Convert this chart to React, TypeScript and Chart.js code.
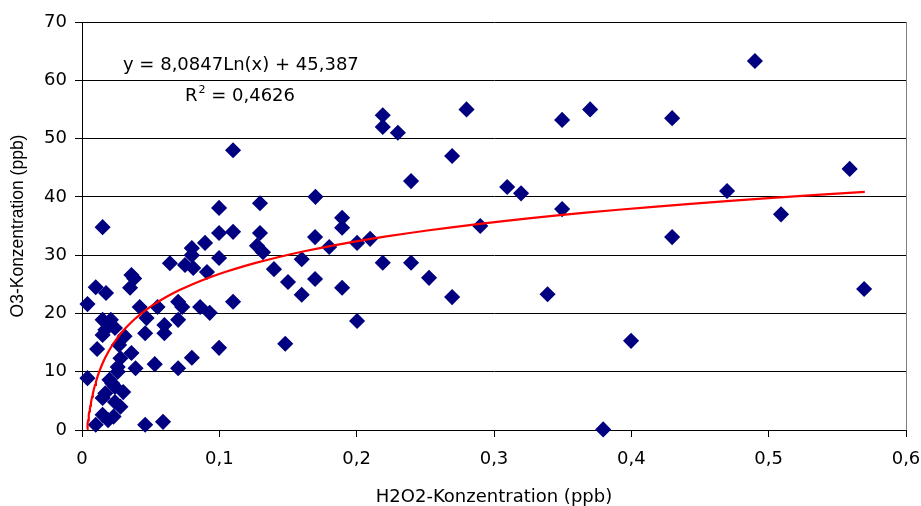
import React, { useEffect, useRef } from 'react';
import { Chart, registerables } from 'chart.js';

Chart.register(...registerables);

// H2O2 concentration (ppb) for each measurement
const h2o2: number[] = [
  0.004, 0.010, 0.0175, 0.015, 0.021, 0.017, 0.024, 0.015, 0.027, 0.011,
  0.015, 0.004, 0.020, 0.024, 0.017, 0.030, 0.024, 0.015, 0.028, 0.015,
  0.023, 0.010, 0.019, 0.026, 0.028, 0.026, 0.022,
  0.036, 0.035, 0.038, 0.042, 0.055, 0.047, 0.046, 0.036, 0.039, 0.053,
  0.046, 0.059, 0.031, 0.060, 0.060,
  0.064, 0.075, 0.080, 0.080, 0.081, 0.0896, 0.091, 0.0998, 0.110, 0.0998,
  0.070, 0.073, 0.086, 0.093, 0.110, 0.070, 0.070, 0.080, 0.0998, 0.0998, 0.110,
  0.1296, 0.170, 0.1894, 0.1894, 0.1296, 0.1274, 0.1318, 0.1697, 0.180, 0.2003,
  0.2098, 0.160, 0.1398, 0.150, 0.1697, 0.160, 0.1894, 0.2003, 0.148,
  0.219, 0.219, 0.230, 0.2695, 0.2396, 0.219, 0.2396, 0.2527, 0.2695, 0.280,
  0.290, 0.3096, 0.3197, 0.3496, 0.370, 0.3496, 0.339, 0.3795, 0.3998, 0.4297,
  0.4297, 0.4697, 0.490, 0.509, 0.559, 0.5695,
];

// O3 concentration (ppb) for each measurement
const o3: number[] = [
  21.6, 24.5, 23.5, 18.9, 18.9, 17.2, 17.5, 16.3, 14.6, 13.9,
  34.8, 8.9, 8.6, 7.4, 6.3, 6.5, 4.8, 5.5, 4.0, 2.6,
  2.3, 0.9, 1.7, 10.8, 12.3, 10.0, 8.0,
  26.6, 24.4, 26.0, 21.1, 21.1, 19.2, 16.6, 13.2, 10.6, 11.3,
  0.9, 1.4, 16.1, 18.0, 16.6,
  28.6, 28.3, 31.2, 30.0, 27.8, 32.1, 27.1, 33.8, 34.0, 29.5,
  22.0, 21.1, 21.1, 20.1, 22.0, 18.9, 10.6, 12.4, 14.1, 38.1, 48.0,
  38.9, 40.0, 36.4, 34.7, 33.8, 31.6, 30.5, 33.1, 31.4, 32.1,
  32.8, 29.3, 27.6, 25.4, 25.9, 23.2, 24.4, 18.7, 14.8,
  54.0, 52.0, 51.0, 47.0, 42.7, 28.7, 28.7, 26.1, 22.8, 55.0,
  35.0, 41.7, 40.6, 53.2, 55.0, 37.9, 23.3, 0.1, 15.3, 53.5,
  33.1, 41.0, 63.3, 37.0, 44.8, 24.2,
];

// Logarithmic trend line shown in the chart: y = a*ln(x) + b
const trendA = 8.0847;
const trendB = 45.387;
const trendR2 = 0.4626;
const trendXStart = 0.0037;
const trendXEnd = 0.57;

const xTickValues = [0, 0.1, 0.2, 0.3, 0.4, 0.5, 0.6];
const yTickValues = [0, 10, 20, 30, 40, 50, 60, 70];

const xTitle = 'H2O2-Konzentration (ppb)';
const yTitle = 'O3-Konzentration (ppb)';

const fmt = (v: number, d: number) => v.toFixed(d).replace('.', ',');

export default function App() {
  const ref = useRef<HTMLCanvasElement | null>(null);

  useEffect(() => {
    document.body.style.margin = '0';
    const canvas = ref.current;
    if (!canvas) return;

    const points = h2o2.map((x, i) => ({ x, y: o3[i] }));

    const trendPts: { x: number; y: number }[] = [];
    const n = 80;
    const l0 = Math.log(trendXStart);
    const l1 = Math.log(trendXEnd);
    for (let i = 0; i <= n; i++) {
      const x = Math.exp(l0 + ((l1 - l0) * i) / n);
      trendPts.push({ x, y: trendA * Math.log(x) + trendB });
    }

    const sans = '"DejaVu Sans", sans-serif';

    const overlay = {
      id: 'overlay',
      beforeDatasetsDraw(chart: any) {
        const { ctx, chartArea } = chart;
        ctx.save();
        ctx.strokeStyle = '#808080';
        ctx.lineWidth = 1;
        ctx.beginPath();
        ctx.moveTo(Math.round(chartArea.right) + 0.5, chartArea.top);
        ctx.lineTo(Math.round(chartArea.right) + 0.5, chartArea.bottom);
        ctx.stroke();
        ctx.restore();
      },
      afterDraw(chart: any) {
        const { ctx } = chart;
        ctx.save();
        ctx.fillStyle = '#000';
        ctx.textBaseline = 'alphabetic';
        ctx.textAlign = 'left';
        ctx.font = '18px ' + sans;
        ctx.fillText(`y = ${fmt(trendA, 4)}Ln(x) + ${fmt(trendB, 3)}`, 123, 70);
        let x = 185;
        ctx.fillText('R', x, 101);
        x += ctx.measureText('R').width + 1;
        ctx.font = '11px ' + sans;
        ctx.fillText('2', x, 93);
        x += ctx.measureText('2').width;
        ctx.font = '18px ' + sans;
        ctx.fillText(` = ${fmt(trendR2, 4)}`, x, 101);
        ctx.restore();
      },
    };

    const chart = new Chart(canvas, {
      type: 'scatter',
      data: {
        datasets: [
          {
            type: 'line',
            data: trendPts,
            borderColor: '#FF0000',
            borderWidth: 2.2,
            pointRadius: 0,
            fill: false,
            tension: 0,
          } as any,
          {
            data: points,
            pointStyle: 'rectRot',
            pointRadius: 7,
            backgroundColor: '#000080',
            borderColor: '#000080',
            borderWidth: 1.5,
            clip: false,
          } as any,
        ],
      },
      options: {
        responsive: false,
        animation: false,
        events: [],
        layout: { padding: { top: 22, right: 15, left: 0, bottom: 0 } },
        plugins: {
          legend: { display: false },
          tooltip: { enabled: false },
        },
        scales: {
          x: {
            type: 'linear',
            min: 0,
            max: 0.6,
            afterBuildTicks: (s: any) => {
              s.ticks = xTickValues.map((v) => ({ value: v }));
            },
            afterFit: (s: any) => {
              s.height = 76;
              s.paddingLeft = 0;
              s.paddingRight = 0;
            },
            ticks: {
              color: '#000',
              font: { family: sans, size: 18 },
              padding: 12,
              maxRotation: 0,
              autoSkip: false,
              callback: (v: any) => (Number(v) === 0 ? '0' : fmt(Number(v), 1)),
            },
            grid: {
              drawOnChartArea: false,
              color: '#000',
              tickLength: 7,
            },
            border: { display: true, color: '#000', width: 1 },
            title: {
              display: true,
              text: xTitle,
              color: '#000',
              font: { family: sans, size: 18, lineHeight: 1 },
              padding: { top: 0, bottom: 0 },
            },
          },
          y: {
            type: 'linear',
            min: 0,
            max: 70,
            afterBuildTicks: (s: any) => {
              s.ticks = yTickValues.map((v) => ({ value: v }));
            },
            afterFit: (s: any) => {
              s.width = 82;
              s.paddingTop = 0;
              s.paddingBottom = 0;
            },
            ticks: {
              color: '#000',
              font: { family: sans, size: 18 },
              padding: 8,
              autoSkip: false,
              callback: (v: any) => String(v),
            },
            grid: {
              color: '#000',
              tickLength: 7,
            },
            border: { display: true, color: '#000', width: 1 },
            title: {
              display: true,
              text: yTitle,
              color: '#000',
              font: { family: '"Liberation Sans", Arial, sans-serif', size: 17.5, lineHeight: 1 },
              padding: { top: 9, bottom: 0 },
            },
          },
        },
      },
      plugins: [overlay],
    });

    return () => chart.destroy();
  }, []);

  return (
    <div style={{ width: 921, height: 506 }}>
      <canvas ref={ref} width={921} height={506} style={{ display: 'block' }} />
    </div>
  );
}
